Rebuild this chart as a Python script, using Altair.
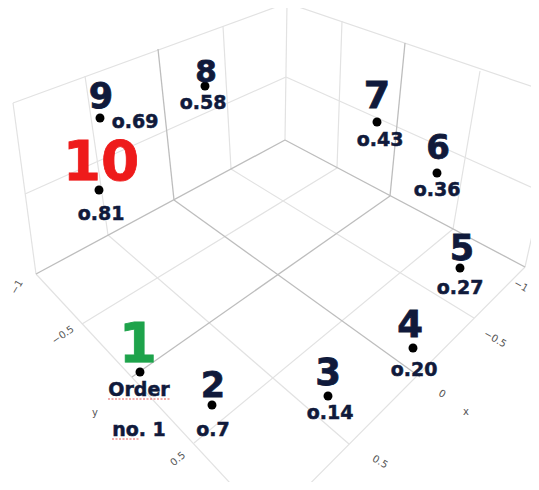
import altair as alt
import pandas as pd

# ---- data -----------------------------------------------------------------
orders = [1, 2, 3, 4, 5, 6, 7, 8, 9, 10]
value_labels = ["Order\nno. 1", "o.7", "o.14", "o.20", "o.27",
                "o.36", "o.43", "o.58", "o.69", "o.81"]

# projected (screen) positions of the 3-D markers
dot_x = [140, 212, 328, 413, 460, 437, 377, 205, 100, 99]
dot_y = [372, 405, 396, 348, 268, 173, 122, 86, 118, 190]

# annotation anchors (baseline of the text)
num_x = [138, 213, 328, 410, 462, 438, 377, 206, 101, 101]
num_y = [362, 397, 385, 337, 260, 159, 108, 82, 108, 180]
num_size = [55, 35, 37, 37, 35, 34, 38, 31, 35, 55]

val_x = [139, 213, 330, 414, 460, 437, 380, 203, 135, 101]
val_y = [396, 436, 419, 376, 294, 196, 146, 109, 128, 220]

# axis tick labels of the 3-D scene
tick_text = ["\u22121", "\u22120.5", "0", "0.5", "x", "\u22121", "\u22120.5", "0.5", "y"]
tick_x = [521, 495, 442, 380, 466, 17, 63, 178, 95]
tick_y = [286, 339, 394, 462, 412, 287, 335, 459, 413]
tick_angle = [30, 30, 30, 30, 0, 300, 325, 320, 0]

# projected grid of the 3-D box (x1, y1, x2, y2)
grid_segments = [
    # back corner vertical
    (287, 3, 285, 140),
    # left wall verticals
    (223, 26, 231, 169), (85, 76, 108, 235), (13, 103, 36, 274),
    # left wall horizontals
    (287, 3, 13, 103), (286, 77, 25, 194),
    # right wall verticals
    (342, 21, 337, 168), (480, 71, 453, 229), (563, 97, 525, 267),
    # right wall horizontals
    (287, 3, 563, 97), (286, 77, 542, 192),
    # floor lines
    (231, 169, 474, 318), (108, 235, 349, 444), (36, 274, 269, 525),
    (337, 168, 82, 324), (453, 229, 194, 443), (525, 267, 269, 525),
]
zero_segments = [
    (285, 140, 36, 274), (285, 140, 525, 267),
    (158, 49, 174, 200), (405, 43, 390, 196),
    (174, 200, 420, 377), (390, 196, 132, 377),
]
squiggles = [(108, 399, 170, 399), (112, 439, 140, 439)]

# ---- tables ---------------------------------------------------------------
def seg_df(segs):
    return pd.DataFrame(segs, columns=["x1", "y1", "x2", "y2"])

pts = pd.DataFrame({
    "order": orders, "label": value_labels,
    "dx": dot_x, "dy": dot_y,
    "nx": num_x, "ny": num_y, "ns": num_size,
    "vx": val_x, "vy": val_y,
})
ticks = pd.DataFrame({"t": tick_text, "x": tick_x, "y": tick_y, "a": tick_angle})

XS = alt.Scale(domain=[8, 531], nice=False, zero=False)
YS = alt.Scale(domain=[8, 482], reverse=True, nice=False, zero=False)


def X(f):
    return alt.X(f, type="quantitative", scale=XS, axis=None)


def Y(f):
    return alt.Y(f, type="quantitative", scale=YS, axis=None)


def seg_layer(df, color, width):
    return alt.Chart(df).mark_rule(color=color, strokeWidth=width, clip=True).encode(
        x=X("x1"), y=Y("y1"), x2="x2", y2="y2")


grid = seg_layer(seg_df(grid_segments), "#e2e2e2", 1.2)
zero = seg_layer(seg_df(zero_segments), "#bdbdbd", 1.3)
squig = alt.Chart(seg_df(squiggles)).mark_rule(
    color="#e0332f", strokeWidth=1.2, strokeDash=[2, 1.5], opacity=0.8).encode(
    x=X("x1"), y=Y("y1"), x2="x2", y2="y2")

tick_layer = alt.Chart(ticks).mark_text(
    font="DejaVu Sans", fontSize=10, color="#555555", align="center",
    baseline="middle").encode(
    x=X("x"), y=Y("y"), text="t:N", angle=alt.Angle("a:Q", scale=None))

dots = alt.Chart(pts).mark_circle(size=80, color="black", opacity=1).encode(
    x=X("dx"), y=Y("dy"))

numbers = alt.Chart(pts).transform_calculate(
    col="datum.order == 1 ? '#1ea34b' : (datum.order == 10 ? '#ee1b1b' : '#101a3b')"
).mark_text(font="DejaVu Sans", fontWeight="bold", align="center",
            baseline="alphabetic", strokeWidth=0.8).encode(
    x=X("nx"), y=Y("ny"), text="order:N",
    size=alt.Size("ns:Q", scale=None),
    color=alt.Color("col:N", scale=None),
    stroke=alt.Stroke("col:N", scale=None))

values = alt.Chart(pts).mark_text(
    font="DejaVu Sans", fontWeight="bold", fontSize=19, color="#101a3b",
    stroke="#101a3b", strokeWidth=0.5,
    align="center", baseline="alphabetic", lineBreak="\n", lineHeight=40).encode(
    x=X("vx"), y=Y("vy"), text="label:N")

chart = alt.layer(grid, zero, tick_layer, squig, dots, numbers, values).properties(
    width=523, height=474, padding=0, background="white",
    autosize=alt.AutoSizeParams(type="none")
).configure_view(strokeWidth=0)

chart.save("out.html", embed_options={"renderer": "svg", "actions": False})
